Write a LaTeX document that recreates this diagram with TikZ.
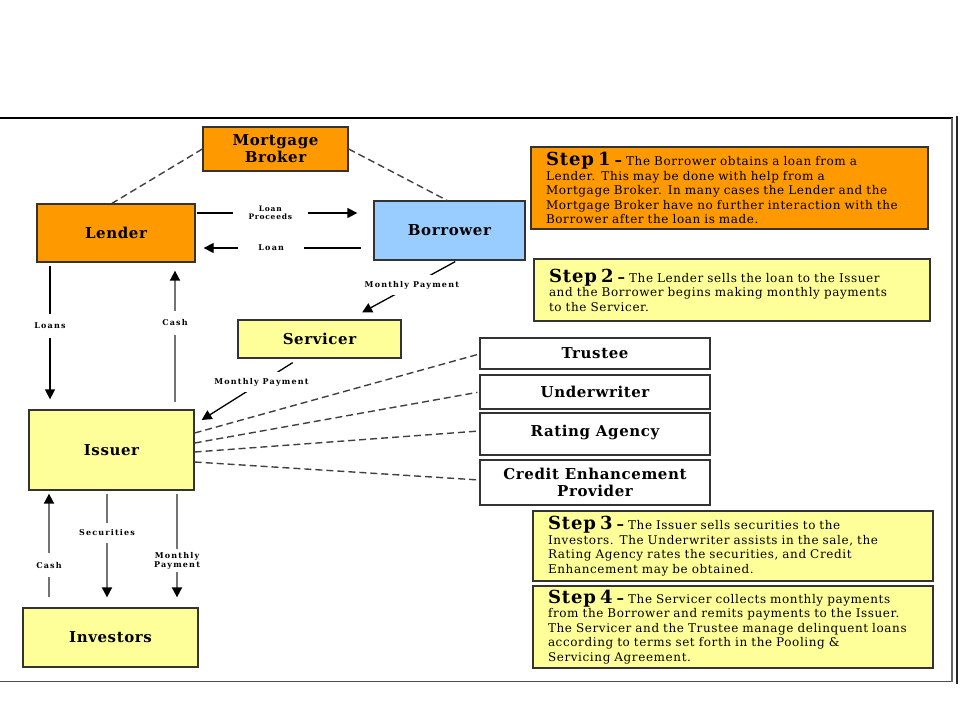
\documentclass[tikz,border=0pt]{standalone}
\usepackage{fontspec}
\setmainfont{DejaVu Serif}
\usetikzlibrary{arrows.meta}
\definecolor{orng}{HTML}{FF9900}
\definecolor{ylw}{HTML}{FFFF99}
\definecolor{blu}{HTML}{99CCFF}
\newcommand{\stephead}[1]{{\bfseries\fontsize{18}{14}\selectfont Step #1} {\fontsize{15}{14}\selectfont\bfseries –} }
\begin{document}
\begin{tikzpicture}[x=1pt,y=-1pt,
  box/.style={draw=black!80,line width=1.3pt,inner sep=0pt,align=center,
     font=\addfontfeature{LetterSpace=4}\bfseries\fontsize{15}{17}\selectfont},
  sbox/.style={draw=black!80,line width=1.3pt,inner xsep=15pt,inner ysep=0pt,align=left,
     font=\addfontfeature{LetterSpace=5}\fontsize{12}{14.5}\selectfont},
  lbl/.style={fill=white,inner xsep=16pt,inner ysep=7pt,align=center,
     font=\addfontfeature{LetterSpace=15}\bfseries\fontsize{8}{9}\selectfont},
  arr/.style={line width=1.3pt,-{Triangle[length=10pt,width=10pt,color=black]}},
  garr/.style={arr,draw=black!55,line width=1.8pt},
  dsh/.style={dash pattern=on 7pt off 4pt,line width=1.4pt,draw=black!75}
]
\useasboundingbox (0,0) rectangle (960,720);
% frame
\draw[line width=2pt] (0,118) -- (953,118);
\draw[line width=1.5pt,black!70] (0,681.5) -- (952,681.5);
\draw[line width=1.3pt,black!60] (952,118) -- (952,682);
\draw[line width=1.5pt,black!85] (957,116) -- (957,684);

% main nodes
\node[box,fill=orng,minimum width=145pt,minimum height=44pt] (broker) at (275.5,149) {Mortgage\\Broker};
\node[box,fill=orng,minimum width=158pt,minimum height=58pt] (lender) at (116,233) {Lender};
\node[box,fill=blu,minimum width=151pt,minimum height=59pt] (borrower) at (449.5,230.5) {Borrower};
\node[box,fill=ylw,minimum width=163pt,minimum height=38pt] (servicer) at (319.5,339) {Servicer};
\node[box,fill=ylw,minimum width=165pt,minimum height=80pt] (issuer) at (111.5,450) {Issuer};
\node[box,fill=ylw,minimum width=175pt,minimum height=59pt] (investors) at (110.5,637.5) {Investors};
\node[box,fill=white,minimum width=230pt,minimum height=31pt] (trustee) at (595,353.5) {Trustee};
\node[box,fill=white,minimum width=230pt,minimum height=34pt] (underwriter) at (595,392) {Underwriter};
\node[box,fill=white,minimum width=230pt,minimum height=42pt,text depth=6pt] (rating) at (595,434) {Rating Agency};
\node[box,fill=white,minimum width=230pt,minimum height=45pt] (cep) at (595,482.5) {Credit Enhancement\\Provider};

% step boxes
\node[sbox,fill=orng,text width=367pt,minimum height=82pt] (step1) at (729.5,188)
 {\stephead{1}The Borrower obtains a loan from a\\Lender.  This may be done with help from a\\Mortgage Broker.  In many cases the Lender and the\\Mortgage Broker have no further interaction with the\\Borrower after the loan is made.};
\node[sbox,fill=ylw,text width=366pt,minimum height=62pt] (step2) at (732,290)
 {\stephead{2}The Lender sells the loan to the Issuer\\and the Borrower begins making monthly payments\\to the Servicer.};
\node[sbox,fill=ylw,text width=370pt,minimum height=70pt] (step3) at (733,546)
 {\stephead{3}The Issuer sells securities to the\\Investors.  The Underwriter assists in the sale, the\\Rating Agency rates the securities, and Credit\\Enhancement may be obtained.};
\node[sbox,fill=ylw,text width=370pt,minimum height=82pt] (step4) at (733,627)
 {\stephead{4}The Servicer collects monthly payments\\from the Borrower and remits payments to the Issuer.\\The Servicer and the Trustee manage delinquent loans\\according to terms set forth in the Pooling \&\\Servicing Agreement.};

% dashed links
\draw[dsh] (broker.west) -- (lender.north -| 112,0);
\draw[dsh] (broker.east) -- (borrower.north -| 447,0);
\draw[dsh,shorten >=2pt] (issuer.east |- 0,433) -- (trustee.west |- 0,354);
\draw[dsh,shorten >=2pt] (issuer.east |- 0,443) -- (underwriter.west |- 0,392);
\draw[dsh,shorten >=2pt] (issuer.east |- 0,452) -- (rating.west |- 0,431);
\draw[dsh,shorten >=2pt] (issuer.east |- 0,462) -- (cep.west |- 0,480);

% flows
\draw[arr,shorten <=1pt,shorten >=16pt] (lender.east |- 0,213) -- node[lbl,pos=0.42,font=\addfontfeature{LetterSpace=10}\bfseries\fontsize{7.5}{8.5}\selectfont] (lp) {Loan\\Proceeds} (borrower.west |- 0,213);
\draw[arr,shorten <=12pt,shorten >=8pt] (borrower.west |- 0,248) -- node[lbl,pos=0.575,inner xsep=20pt] (ln) {Loan} (lender.east |- 0,248);
\draw[arr,shorten <=2pt,shorten >=14.3pt] (borrower.south -| 457,0) -- node[lbl,pos=0.42,inner xsep=18pt,inner ysep=6pt] (mp1) {Monthly Payment} (servicer.north -| 349.5,0);
\draw[arr,shorten <=7.5pt,shorten >=8.3pt] (servicer.south -| 299,0) -- node[lbl,pos=0.36,inner xsep=18pt,inner ysep=6pt] (mp2) {Monthly Payment} (issuer.east |- 0,424.4);
\draw[arr,shorten <=3pt,shorten >=10pt] (lender.south -| 50,0) -- node[lbl,pos=0.43,inner ysep=9pt] (loans) {Loans} (issuer.north -| 50,0);
\draw[garr,shorten <=7pt,shorten >=8pt] (issuer.north -| 175,0) -- node[lbl,pos=0.59,inner ysep=9pt] (cash1) {Cash} (lender.south -| 175,0);
\draw[garr,shorten <=10pt,shorten >=3pt] (investors.north -| 49,0) -- node[lbl,pos=0.36,inner ysep=9pt] (cash2) {Cash} (issuer.south -| 49,0);
\draw[garr,shorten <=3pt,shorten >=10pt] (issuer.south -| 107,0) -- node[lbl,pos=0.36,inner ysep=7pt,inner xsep=10pt] (sec) {Securities} (investors.north -| 107,0);
\draw[garr,shorten <=3pt,shorten >=10pt] (issuer.south -| 177,0) -- node[lbl,pos=0.60,inner ysep=3pt,inner xsep=10pt] (mp3) {Monthly\\Payment} (investors.north -| 177,0);
\end{tikzpicture}
\end{document}
